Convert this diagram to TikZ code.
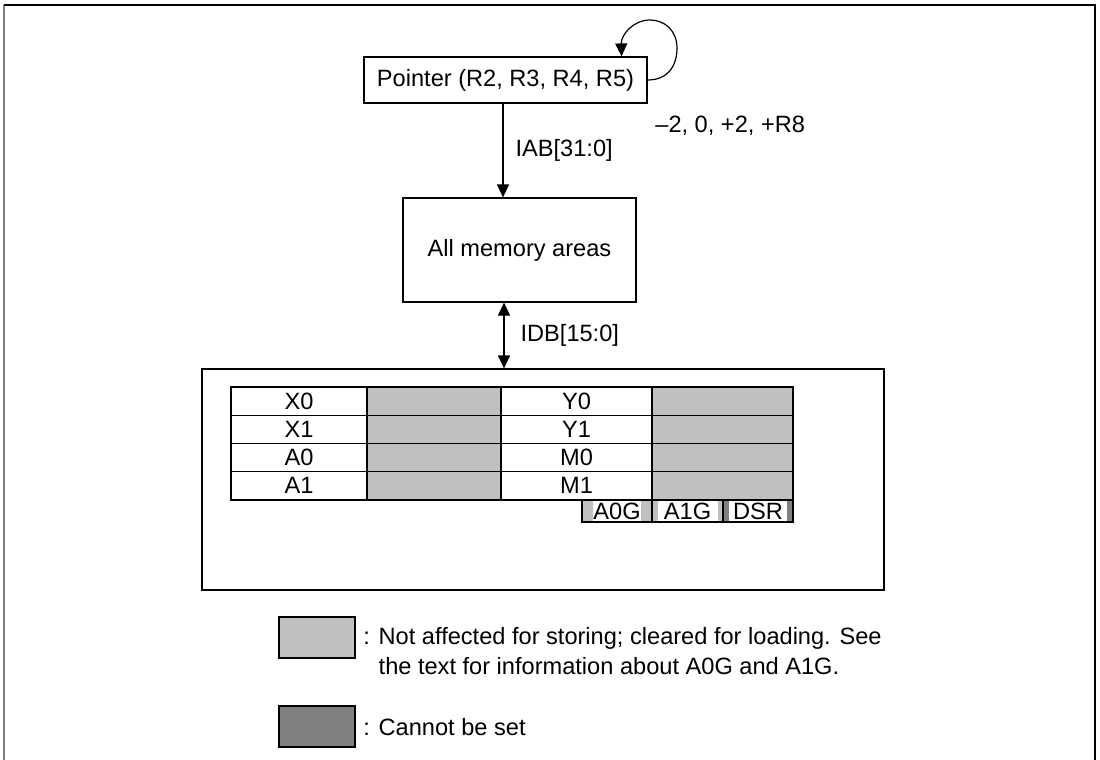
\documentclass[tikz,border=0pt]{standalone}
\usepackage{fontspec}
\setmainfont{Liberation Sans}
\usetikzlibrary{arrows.meta}
\definecolor{lightcell}{RGB}{192,192,192}
\definecolor{darkcell}{RGB}{128,128,128}

\begin{document}
\begin{tikzpicture}[x=0.5pt, y=-0.5pt,
  >={Triangle[length=6.5pt,width=6pt]},
  every node/.style={font=\fontsize{11.8}{15}\selectfont, inner sep=0pt},
  box/.style={draw, semithick, rectangle},
  cell/.style={box, minimum height=14.125pt},
  tag/.style={fill=white, minimum height=10pt}]
  \useasboundingbox (0,0) rectangle (1100,760);
  % frame
  \draw[darkcell, semithick] (4,760) -- (4,5);
  \draw[semithick] (4,5) -- (1095,5) -- (1095,760);

  % pointer and memory
  \node[box, minimum width=141.5pt, minimum height=23pt] (ptr) at (505.5,80) {Pointer (R2, R3, R4, R5)};
  \node[box, minimum width=116.5pt, minimum height=52pt] (mem) at (519.5,250) {All memory areas};
  \node[box, minimum width=341pt, minimum height=110.5pt] (regs) at (543,479.5) {};

  \draw[semithick, ->] (ptr.east) .. controls (668,80) and (677,66) .. (677,48)
    .. controls (677,31) and (665,20) .. (650,20)
    .. controls (633,20) and (621,35) .. ([xshift=-13pt]ptr.north east);
  \node[anchor=west] (step) at (655,126) {--2, 0, +2, +R8};

  \draw[semithick, ->] (ptr.south -| 503,0) -- (mem.north -| 503,0) node[midway, right=6pt] (iab) {IAB[31:0]};
  \draw[semithick, <->] (mem.south -| 504,0) -- (regs.north -| 504,0) node[midway, right=8pt] (idb) {IDB[15:0]};

  % registers
  \foreach \a/\b [count=\i from 0] in {X0/Y0, X1/Y1, A0/M0, A1/M1} {
    \node[cell, minimum width=68pt] (la\i) at (299,{401.1+28.25*\i}) {\a};
    \node[cell, minimum width=67pt, fill=lightcell] (ga\i) at (434,{401.1+28.25*\i}) {};
    \node[cell, minimum width=75.5pt] (lb\i) at (576.5,{401.1+28.25*\i}) {\b};
    \node[cell, minimum width=70.5pt, fill=lightcell] (gb\i) at (722.5,{401.1+28.25*\i}) {};
  }
  \node[box, fill=lightcell, minimum width=35pt, minimum height=11pt] (a0g) at (617,511) {};
  \node[tag, minimum width=23pt] at (a0g) {A0G};
  \node[box, fill=lightcell, minimum width=35.5pt, minimum height=11pt] (a1g) at (687.5,511) {};
  \node[tag, minimum width=30pt] at (a1g) {A1G};
  \node[box, fill=darkcell, minimum width=35pt, minimum height=11pt] (dsr) at (758,511) {};
  \node[tag, minimum width=29pt] at (dsr) {DSR};

  % legend
  \node[box, fill=lightcell, minimum width=38pt, minimum height=20.5pt] (keyclr) at (317,637.5) {};
  \node[anchor=north west, align=left] (txtclr) at (363,627) {: Not affected for storing; cleared for loading. See\\\phantom{: }the text for information about A0G and A1G.};
  \node[box, fill=darkcell, minimum width=38pt, minimum height=20.5pt] (keyset) at (317,726.5) {};
  \node[anchor=west] (txtset) at (363,727) {: Cannot be set};
\end{tikzpicture}
\end{document}
